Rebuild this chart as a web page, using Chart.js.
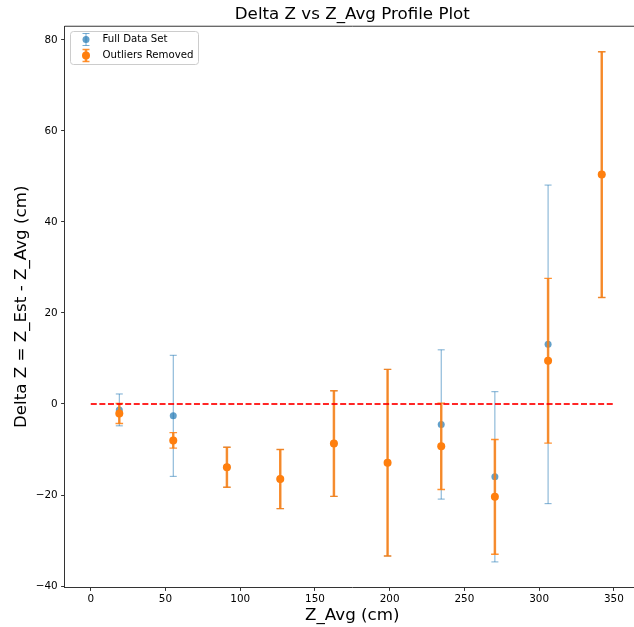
<!DOCTYPE html>
<html>
<head>
<meta charset="utf-8">
<script src="https://cdn.jsdelivr.net/npm/chart.js@4"></script>
<style>
  html, body { margin: 0; padding: 0; background: #fff; overflow: hidden; }
  #wrap { width: 634px; height: 627px; overflow: hidden; }
  canvas { display: block; }
</style>
</head>
<body>
<div id="wrap"><canvas id="chart" width="644" height="627"></canvas></div>
<script>
// values
const zAvg = [19.1, 55.2, 91.1, 126.8, 162.7, 198.6, 234.5, 270.4, 306.0, 341.9];
const fullMean = [-1.3, -2.6, -13.9, -16.5, -8.7, -12.9, -4.5, -16.0, 13.1, 50.4];
const fullErr = [3.5, 13.3, 4.4, 6.5, 11.6, 20.5, 16.4, 18.7, 35.0, 27.0];
const cleanMean = [-2.1, -8.0, -13.9, -16.5, -8.7, -12.9, -9.3, -20.4, 9.5, 50.4];
const cleanErr = [2.2, 1.7, 4.4, 6.5, 11.6, 20.5, 9.5, 12.6, 18.1, 27.0];
const refLineX = [0, 350];
const refLineY = [0, 0];
const xTicks = [0, 50, 100, 150, 200, 250, 300, 350];
const yTicks = [-40, -20, 0, 20, 40, 60, 80];
const legendLabels = ["Full Data Set", "Outliers Removed"];

const blueLine = "rgba(31,119,180,0.6)";
const bluePoint = "rgba(31,119,180,0.7)";
const orangeLine = "rgba(255,127,14,0.85)";
const orangePoint = "#ff7f0e";
const spine = "#333";

Chart.defaults.font.family = "'DejaVu Sans', sans-serif";
Chart.defaults.color = "#000";

function toPoints(xs, ys) {
  return xs.map((x, i) => ({ x: x, y: ys[i] }));
}

function noPad(s) {
  s.paddingLeft = 0;
  s.paddingRight = 0;
  s.paddingTop = 0;
  s.paddingBottom = 0;
}

// vertical error bars, drawn just before each dataset's points
const errorBars = {
  id: "errorBars",
  beforeDatasetDraw(chart, args) {
    const ds = chart.data.datasets[args.index];
    if (!ds.errors) return;
    const ctx = chart.ctx;
    const xs = chart.scales.x, ys = chart.scales.y;
    ctx.save();
    ctx.strokeStyle = ds.errColor;
    ds.data.forEach((p, i) => {
      const px = xs.getPixelForValue(p.x);
      const top = ys.getPixelForValue(p.y + ds.errors[i]);
      const bot = ys.getPixelForValue(p.y - ds.errors[i]);
      ctx.lineWidth = ds.errWidth;
      ctx.beginPath();
      ctx.moveTo(px, top);
      ctx.lineTo(px, bot);
      ctx.stroke();
      ctx.lineWidth = ds.capWidth;
      ctx.beginPath();
      ctx.moveTo(px - ds.capHalf, top);
      ctx.lineTo(px + ds.capHalf, top);
      ctx.moveTo(px - ds.capHalf, bot);
      ctx.lineTo(px + ds.capHalf, bot);
      ctx.stroke();
    });
    ctx.restore();
  }
};

// top spine and the matplotlib-style legend box
const frameAndLegend = {
  id: "frameAndLegend",
  afterDraw(chart) {
    const ctx = chart.ctx;
    const a = chart.chartArea;
    ctx.save();
    ctx.strokeStyle = spine;
    ctx.lineWidth = 1;
    ctx.beginPath();
    ctx.moveTo(a.left, a.top);
    ctx.lineTo(a.right, a.top);
    ctx.stroke();

    const bx = 70.5, by = 31.5, bw = 128, bh = 33, r = 3;
    ctx.beginPath();
    ctx.moveTo(bx + r, by);
    ctx.arcTo(bx + bw, by, bx + bw, by + bh, r);
    ctx.arcTo(bx + bw, by + bh, bx, by + bh, r);
    ctx.arcTo(bx, by + bh, bx, by, r);
    ctx.arcTo(bx, by, bx + bw, by, r);
    ctx.closePath();
    ctx.fillStyle = "rgba(255,255,255,0.8)";
    ctx.fill();
    ctx.strokeStyle = "#cccccc";
    ctx.stroke();

    const sets = [chart.data.datasets[2], chart.data.datasets[1]];
    const rows = [39.5, 55.5];
    sets.forEach((ds, i) => {
      const cx = 86, cy = rows[i];
      ctx.strokeStyle = ds.errColor;
      ctx.lineWidth = ds.errWidth;
      ctx.beginPath();
      ctx.moveTo(cx, cy - 6);
      ctx.lineTo(cx, cy + 6);
      ctx.stroke();
      ctx.lineWidth = ds.capWidth;
      ctx.beginPath();
      ctx.moveTo(cx - 3.5, cy - 6);
      ctx.lineTo(cx + 3.5, cy - 6);
      ctx.moveTo(cx - 3.5, cy + 6);
      ctx.lineTo(cx + 3.5, cy + 6);
      ctx.stroke();
      ctx.fillStyle = ds.backgroundColor;
      ctx.beginPath();
      ctx.arc(cx, cy, ds.pointRadius, 0, Math.PI * 2);
      ctx.fill();
      ctx.fillStyle = "#000";
      ctx.font = "10.2px 'DejaVu Sans'";
      ctx.textBaseline = "middle";
      ctx.fillText(legendLabels[i], 102.5, cy);
    });
    ctx.restore();
  }
};

new Chart(document.getElementById("chart"), {
  type: "scatter",
  data: {
    datasets: [
      {
        type: "line",
        data: toPoints(refLineX, refLineY),
        borderColor: "rgba(255,0,0,0.85)",
        borderWidth: 2,
        borderDash: [6, 2.6],
        pointRadius: 0,
        fill: false,
        order: 1
      },
      {
        label: legendLabels[1],
        data: toPoints(zAvg, cleanMean),
        errors: cleanErr,
        errColor: orangeLine,
        errWidth: 2.5,
        capWidth: 1.4,
        capHalf: 3.8,
        backgroundColor: orangePoint,
        borderWidth: 0,
        pointRadius: 4,
        order: 2
      },
      {
        label: legendLabels[0],
        data: toPoints(zAvg, fullMean),
        errors: fullErr,
        errColor: blueLine,
        errWidth: 1,
        capWidth: 1,
        capHalf: 3.5,
        backgroundColor: bluePoint,
        borderWidth: 0,
        pointRadius: 3.5,
        order: 3
      }
    ]
  },
  options: {
    responsive: false,
    animation: false,
    devicePixelRatio: 1,
    layout: { padding: { left: 0, top: 0, right: 0.8, bottom: 0 } },
    scales: {
      x: {
        type: "linear",
        min: -17.5,
        max: 367.5,
        afterFit: s => { s.height = 39.6; noPad(s); },
        afterBuildTicks: s => { s.ticks = xTicks.map(v => ({ value: v })); },
        grid: { display: true, drawOnChartArea: false, drawTicks: true, tickLength: 3.5, tickColor: spine },
        border: { display: true, color: spine, width: 1 },
        ticks: { font: { size: 10.4 }, color: "#000", padding: 2, maxRotation: 0 },
        title: { display: true, text: "Z_Avg (cm)", font: { size: 16.7 }, color: "#000", padding: { top: 0, bottom: 1 } }
      },
      y: {
        type: "linear",
        min: -40.3,
        max: 83.0,
        afterFit: s => { s.width = 64.6; noPad(s); },
        afterBuildTicks: s => { s.ticks = yTicks.map(v => ({ value: v })); },
        grid: { display: true, drawOnChartArea: false, drawTicks: true, tickLength: 3.5, tickColor: spine },
        border: { display: true, color: spine, width: 1 },
        ticks: { font: { size: 10.4 }, color: "#000", padding: 3.5, callback: v => String(v).replace("-", "\u2212") },
        title: { display: true, text: "Delta Z = Z_Est - Z_Avg (cm)", font: { size: 16.7 }, color: "#000", padding: { top: 12, bottom: 0 } }
      }
    },
    plugins: {
      legend: { display: false },
      tooltip: { enabled: false },
      title: {
        display: true,
        fullSize: false,
        text: "Delta Z vs Z_Avg Profile Plot",
        font: { size: 16.7, weight: "normal" },
        color: "#000",
        padding: { top: 4.5, bottom: 1.7 }
      }
    }
  },
  plugins: [errorBars, frameAndLegend]
});
</script>
</body>
</html>
